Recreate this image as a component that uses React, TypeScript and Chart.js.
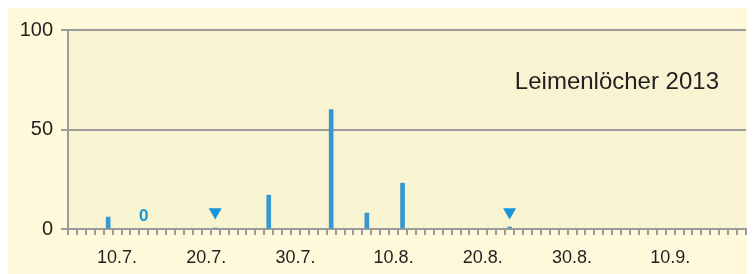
import React, { useEffect, useRef } from "react";
import { Chart, registerables } from "chart.js";

Chart.register(...registerables);

const dayLabels: string[] = [
  "5.7.", "6.7.", "7.7.", "8.7.", "9.7.", "10.7.", "11.7.", "12.7.", "13.7.", "14.7.",
  "15.7.", "16.7.", "17.7.", "18.7.", "19.7.", "20.7.", "21.7.", "22.7.", "23.7.", "24.7.",
  "25.7.", "26.7.", "27.7.", "28.7.", "29.7.", "30.7.", "31.7.",
  "1.8.", "2.8.", "3.8.", "4.8.", "5.8.", "6.8.", "7.8.", "8.8.", "9.8.", "10.8.",
  "11.8.", "12.8.", "13.8.", "14.8.", "15.8.", "16.8.", "17.8.", "18.8.", "19.8.", "20.8.",
  "21.8.", "22.8.", "23.8.", "24.8.", "25.8.", "26.8.", "27.8.", "28.8.", "29.8.", "30.8.", "31.8.",
  "1.9.", "2.9.", "3.9.", "4.9.", "5.9.", "6.9.", "7.9.", "8.9.", "9.9.", "10.9.",
  "11.9.", "12.9.", "13.9.", "14.9.", "15.9.", "16.9.", "17.9.", "18.9.",
];

const shownTickLabels: string[] = ["10.7.", "20.7.", "30.7.", "10.8.", "20.8.", "30.8.", "10.9."];

const catchDates: string[] = ["9.7.", "21.7.", "27.7.", "3.8.", "7.8.", "11.8.", "23.8."];
const catchValues: number[] = [6, 0.5, 17, 60, 8, 23, 1];

const markerDates: string[] = ["21.7.", "23.8."];
const zeroDates: string[] = ["13.7."];

const yTicks: number[] = [0, 50, 100];
const titleText = "Leimenlöcher 2013";

const MARKER_LEVEL = 8.5;
const ZERO_LEVEL = 6.5;

const FONT = "'Liberation Sans', Arial, Helvetica, sans-serif";
const GRAY = "#9b9b9b";
const TEXT = "#231f20";
const BAR = "#3797d3";
const MARK = "#1696d9";

const plotBg = {
  id: "plotBg",
  beforeDraw(chart: any) {
    const { ctx, chartArea } = chart;
    ctx.save();
    ctx.fillStyle = "#f8f3d0";
    ctx.fillRect(chartArea.left, chartArea.top, chartArea.right - chartArea.left, chartArea.bottom - chartArea.top);
    ctx.restore();
  },
};

const annotations = {
  id: "annotations",
  afterDraw(chart: any) {
    const { ctx, chartArea } = chart;
    const xs = chart.scales.x;
    const ys = chart.scales.y;
    ctx.save();
    ctx.fillStyle = TEXT;
    ctx.font = `24px ${FONT}`;
    ctx.textAlign = "right";
    ctx.textBaseline = "alphabetic";
    ctx.fillText(titleText, chartArea.right - 27, 81);
    ctx.fillStyle = MARK;
    ctx.font = `bold 17px ${FONT}`;
    ctx.textAlign = "center";
    ctx.textBaseline = "middle";
    zeroDates.forEach((d) => {
      const x = xs.getPixelForValue(dayLabels.indexOf(d));
      ctx.fillText("0", x, ys.getPixelForValue(ZERO_LEVEL));
    });
    ctx.restore();
  },
};

export default function App() {
  const ref = useRef<HTMLCanvasElement | null>(null);

  useEffect(() => {
    if (!ref.current) return;
    Chart.defaults.font.family = FONT;
    const chart = new Chart(ref.current, {
      type: "bar",
      data: {
        labels: dayLabels,
        datasets: [
          {
            type: "bar",
            data: catchDates.map((d, i) => ({ x: d, y: catchValues[i] })),
            backgroundColor: BAR,
            barThickness: 4,
            order: 2,
          } as any,
          {
            type: "line",
            data: markerDates.map((d) => ({ x: d, y: MARKER_LEVEL })),
            showLine: false,
            pointStyle: "triangle",
            rotation: 180,
            pointRadius: 7.5,
            pointBackgroundColor: MARK,
            pointBorderWidth: 0,
            order: 1,
          } as any,
        ],
      },
      options: {
        animation: false,
        responsive: false,
        maintainAspectRatio: false,
        layout: { padding: { top: 22, right: 9, left: 0, bottom: 0 } },
        plugins: { legend: { display: false }, tooltip: { enabled: false }, title: { display: false } },
        scales: {
          x: {
            type: "category",
            offset: true,
            grid: {
              offset: true,
              drawOnChartArea: false,
              drawTicks: true,
              tickLength: 6,
              color: GRAY,
              lineWidth: 2,
            },
            border: { display: true, color: GRAY, width: 2 },
            ticks: {
              autoSkip: false,
              maxRotation: 0,
              minRotation: 0,
              padding: 12,
              color: TEXT,
              font: { size: 18, family: FONT },
              callback: function (this: any, value: any) {
                const lab = dayLabels[value as number];
                return shownTickLabels.includes(lab) ? lab : "";
              },
            },
            afterFit: (s: any) => {
              s.height = 45;
            },
          },
          y: {
            min: 0,
            max: 100,
            afterBuildTicks: (s: any) => {
              s.ticks = yTicks.map((v) => ({ value: v }));
            },
            grid: { color: GRAY, lineWidth: 2, tickLength: 7, drawTicks: true },
            border: { display: true, color: GRAY, width: 2 },
            ticks: {
              padding: 8,
              color: TEXT,
              font: { size: 20, family: FONT },
            },
            afterFit: (s: any) => {
              s.width = 60;
            },
          },
        },
      },
      plugins: [plotBg, annotations],
    });
    return () => chart.destroy();
  }, []);

  return (
    <div style={{ width: 747, height: 266, background: "#fff9dc", position: "relative" }}>
      <canvas ref={ref} width={747} height={266} style={{ display: "block", width: 747, height: 266 }} />
    </div>
  );
}
